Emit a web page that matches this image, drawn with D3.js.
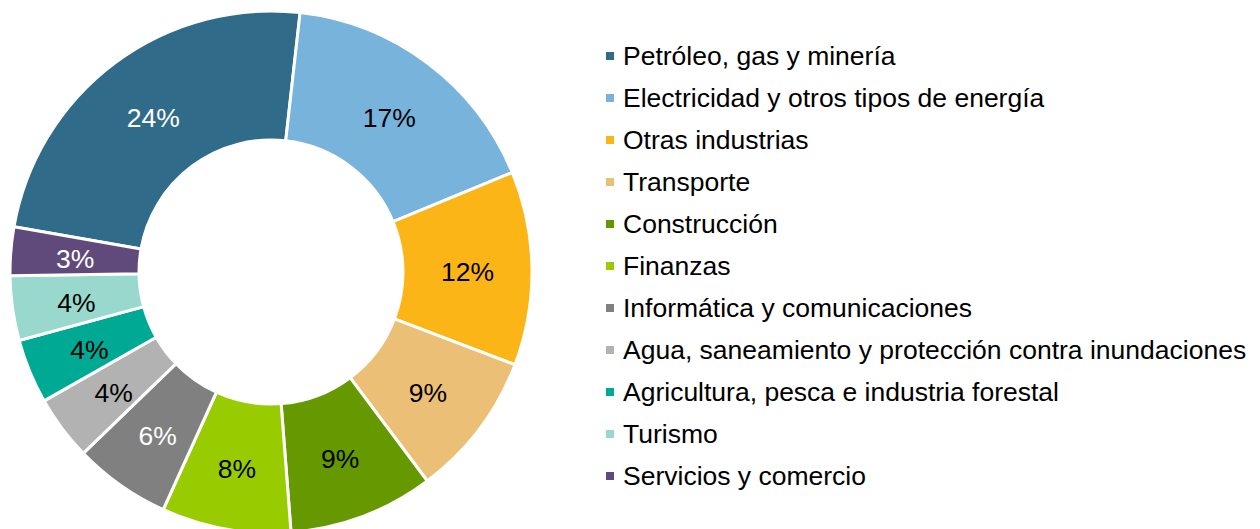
<!DOCTYPE html>
<html>
<head>
<meta charset="utf-8">
<script src="https://cdn.jsdelivr.net/npm/d3@7"></script>
<style>
  body { margin: 0; background: #fff; }
  svg { display: block; font-family: "Liberation Sans", Arial, sans-serif; }
</style>
</head>
<body>
<svg id="grafica"></svg>
<script>
// datos
const sectores = [
  "Petróleo, gas y minería",
  "Electricidad y otros tipos de energía",
  "Otras industrias",
  "Transporte",
  "Construcción",
  "Finanzas",
  "Informática y comunicaciones",
  "Agua, saneamiento y protección contra inundaciones",
  "Agricultura, pesca e industria forestal",
  "Turismo",
  "Servicios y comercio"
];
const porcentajes = [24, 17, 12, 9, 9, 8, 6, 4, 4, 4, 3];
const colores = [
  "#306b8a", "#78b3db", "#fbb517", "#ecbf76", "#669900", "#99cc00",
  "#808080", "#b2b2b2", "#00a993", "#99d8cc", "#604a7b"
];
const etiquetaBlanca = ["Petróleo, gas y minería", "Informática y comunicaciones", "Servicios y comercio"];

const width = 1260;
const height = 529;

const svg = d3.select("#grafica")
  .attr("width", width)
  .attr("height", height);

const cx = 271, cy = 272;
const rExt = 261, rInt = 132;

const datos = sectores.map((s, i) => ({ sector: s, valor: porcentajes[i], color: colores[i] }));

// el primer sector empieza girado ~280 grados (como en excel)
const inicio = 280 * Math.PI / 180;
const pie = d3.pie()
  .value(d => d.valor)
  .sort(null)
  .startAngle(inicio)
  .endAngle(inicio + 2 * Math.PI);

const arco = d3.arc()
  .innerRadius(rInt)
  .outerRadius(rExt);

const g = svg.append("g")
  .attr("transform", `translate(${cx},${cy})`);

const arcos = pie(datos);

g.selectAll("path")
  .data(arcos)
  .join("path")
  .attr("d", arco)
  .attr("fill", d => d.data.color)
  .attr("stroke", "#fff")
  .attr("stroke-width", 3)
  .attr("stroke-linejoin", "miter");

g.selectAll("text")
  .data(arcos)
  .join("text")
  .attr("transform", d => `translate(${arco.centroid(d)})`)
  .attr("text-anchor", "middle")
  .attr("dy", "0.46em")
  .attr("font-size", 26.5)
  .attr("fill", d => etiquetaBlanca.includes(d.data.sector) ? "#fff" : "#000")
  .text(d => d.data.valor + "%");

// leyenda
const y = d3.scaleBand()
  .domain(sectores)
  .range([35, 497]);

const leyenda = svg.append("g");

const fila = leyenda.selectAll("g")
  .data(datos)
  .join("g")
  .attr("transform", d => `translate(0,${y(d.sector) + y.bandwidth() / 2})`);

fila.append("rect")
  .attr("x", 606)
  .attr("y", -4)
  .attr("width", 8)
  .attr("height", 8)
  .attr("fill", d => d.color);

fila.append("text")
  .attr("x", 623)
  .attr("dy", "0.35em")
  .attr("font-size", 26.5)
  .attr("fill", "#000")
  .text(d => d.sector);
</script>
</body>
</html>
